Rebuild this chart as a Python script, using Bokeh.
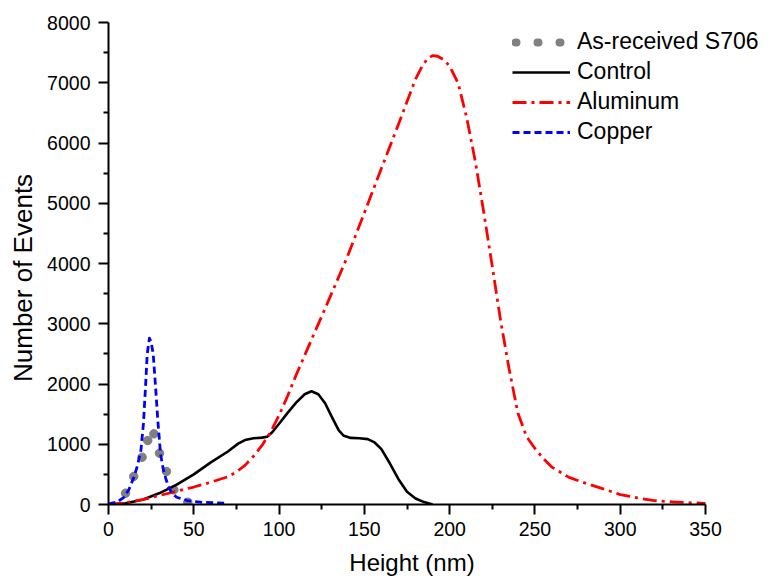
from bokeh.plotting import figure
from bokeh.models import Legend, LegendItem, FixedTicker
from bokeh.embed import file_html
from bokeh.resources import INLINE

# ---- data ----
asrec_x = [10, 14.8, 19.7, 23, 26.6, 29.9, 34, 38.3, 46.5]
asrec_y = [188, 465, 785, 1062, 1173, 852, 548, 243, 38]

control_x = [0, 10, 20, 30, 40, 50, 60, 70, 76, 80, 85, 90, 93, 96, 100, 105, 110, 115, 119,
             123, 127, 131, 135, 138, 142, 147, 152, 156, 160, 165, 170, 175, 180, 185, 190]
control_y = [0, 20, 80, 190, 330, 500, 700, 880, 1010, 1070, 1100, 1110, 1125, 1200, 1340,
             1520, 1690, 1830, 1880, 1830, 1680, 1450, 1230, 1140, 1105, 1100, 1085,
             1030, 920, 680, 420, 210, 100, 40, 0]

alum_x = [0, 10, 20, 30, 40, 50, 60, 70, 75, 80, 85, 90, 95, 100, 105, 110, 120, 130, 140,
          150, 160, 170, 180, 184, 187, 190, 193, 196, 200, 205, 210, 215, 220, 225, 230,
          235, 240, 245, 250, 255, 260, 270, 280, 290, 300, 310, 320, 330, 340, 350]
alum_y = [0, 30, 80, 150, 220, 290, 370, 460, 540, 650, 800, 980, 1200, 1480, 1800, 2150,
          2800, 3450, 4110, 4840, 5580, 6310, 7060, 7280, 7400, 7450, 7440, 7390, 7280,
          6990, 6420, 5700, 4850, 3950, 3030, 2230, 1520, 1130, 930, 760, 620, 450, 350,
          260, 165, 110, 65, 45, 30, 20]

copper_x = [0, 5, 9, 12, 15, 17, 19, 20.5, 21.7, 22.7, 24, 25, 26.2, 27.6, 28.9, 30.5,
            32, 33.4, 35, 37.3, 40, 46, 54, 62, 70]
copper_y = [10, 40, 120, 250, 460, 650, 900, 1350, 1950, 2500, 2760, 2700, 2500, 1950,
            1400, 840, 600, 450, 300, 180, 120, 66, 38, 28, 20]

x_ticks = [0, 50, 100, 150, 200, 250, 300, 350]
y_ticks = [0, 1000, 2000, 3000, 4000, 5000, 6000, 7000, 8000]

FONT = "Liberation Sans"
NBSP = "\u00a0"

# layout: frame spans to the right edge so that the legend is not clipped;
# the x axis itself is bounded to 0..350 (597 px wide as in the reference)
W, H = 775, 581
LEFT, TOP, BOTTOM = 108, 22, 77
AXIS_PX = 597
x_end = x_ticks[-1] * (W - LEFT) / AXIS_PX

p = figure(width=W, height=H, x_range=(0, x_end), y_range=(0, 8000),
           output_backend="svg", toolbar_location=None,
           min_border_left=LEFT, min_border_right=0, min_border_top=TOP,
           min_border_bottom=BOTTOM)
p.outline_line_color = None
p.xgrid.visible = False
p.ygrid.visible = False
p.background_fill_color = "white"
p.border_fill_color = "white"

r_dots = p.scatter(asrec_x, asrec_y, size=8.5, color="#808080", marker="circle")
r_ctrl = p.line(control_x, control_y, line_color="black", line_width=2.6,
                line_join="round")
r_alum = p.line(alum_x, alum_y, line_color="#ff0000", line_width=2.8,
                line_dash="14 5 3 5", line_join="round")
r_cu = p.line(copper_x, copper_y, line_color="#0000ff", line_width=2.8,
              line_dash="7 4", line_join="round")
# legend-only glyph (hidden in the plot): three dots
r_leg = p.line(asrec_x, asrec_y, line_color="#808080", line_width=8, line_cap="round",
               line_dash="1 21", line_dash_offset=-3, visible=False)

for ax, ticks in ((p.xaxis[0], x_ticks), (p.yaxis[0], y_ticks)):
    ax.ticker = FixedTicker(ticks=ticks,
                            minor_ticks=[t + (ticks[1] - ticks[0]) / 2 for t in ticks[:-1]])
    ax.bounds = (ticks[0], ticks[-1])
    ax.axis_line_width = 2
    ax.axis_line_color = "black"
    ax.major_tick_line_width = 2
    ax.minor_tick_line_width = 2
    ax.major_tick_out = 10
    ax.major_tick_in = 0
    ax.minor_tick_out = 5
    ax.minor_tick_in = 0
    ax.major_label_text_font = FONT
    ax.major_label_text_font_size = "19.5px"
    ax.major_label_text_color = "black"
    ax.axis_label_text_font = FONT
    ax.axis_label_text_font_style = "normal"
    ax.axis_label_text_color = "black"

p.xaxis.axis_label = "Height (nm)" + NBSP * 9
p.yaxis.axis_label = "Number of Events" + NBSP * 4
p.xaxis.axis_label_text_font_size = "24px"
p.yaxis.axis_label_text_font_size = "26px"
p.xaxis.major_label_standoff = 7
p.yaxis.major_label_standoff = 8
p.xaxis.axis_label_standoff = 10
p.yaxis.axis_label_standoff = 6

legend = Legend(items=[
    LegendItem(label="As-received S706", renderers=[r_leg]),
    LegendItem(label="Control", renderers=[r_ctrl]),
    LegendItem(label="Aluminum", renderers=[r_alum]),
    LegendItem(label="Copper", renderers=[r_cu]),
], location=(404, 359))
legend.label_text_font = FONT
legend.label_text_font_size = "23px"
legend.label_text_color = "black"
legend.glyph_width = 58
legend.glyph_height = 26
legend.label_height = 26
legend.label_standoff = 7
legend.spacing = 3
legend.padding = 0
legend.margin = 0
legend.border_line_color = None
legend.background_fill_alpha = 0
p.add_layout(legend, "center")

open("out.html", "w").write(file_html(p, INLINE))
